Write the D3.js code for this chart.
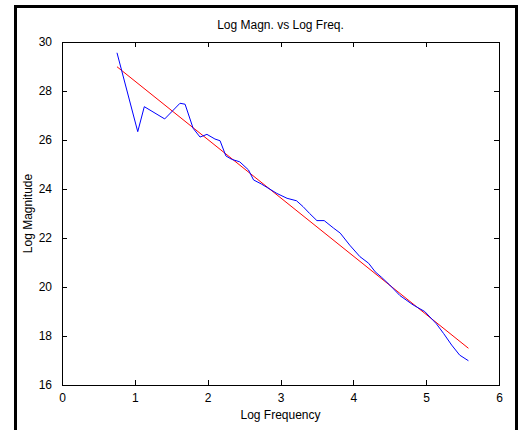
<!DOCTYPE html>
<html>
<head>
<meta charset="utf-8">
<script src="https://cdn.jsdelivr.net/npm/d3@7"></script>
<style>
  body { margin: 0; background: #fff; }
  text { font-family: Arial, "Liberation Sans", sans-serif; font-size: 12px; fill: #000; }
</style>
</head>
<body>
<svg id="chart" width="519" height="430"></svg>
<script>
// Data
var logFreq = [0.755, 1.04, 1.13, 1.41, 1.62, 1.69, 1.80, 1.895, 1.99, 2.10, 2.17, 2.25,
  2.33, 2.44, 2.56, 2.63, 2.74, 2.95, 3.09, 3.22, 3.31, 3.40, 3.50, 3.60, 3.73, 3.82,
  3.95, 4.09, 4.21, 4.30, 4.39, 4.50, 4.64, 4.82, 4.98, 5.14, 5.24, 5.35, 5.46, 5.58];
var logMagn = [29.56, 26.34, 27.36, 26.86, 27.5, 27.46, 26.48, 26.12, 26.23, 26.04, 25.97, 25.35,
  25.21, 25.11, 24.78, 24.37, 24.20, 23.82, 23.62, 23.52, 23.28, 23.0, 22.71, 22.71, 22.40, 22.2,
  21.71, 21.24, 20.97, 20.62, 20.39, 20.08, 19.65, 19.27, 19.0, 18.5, 18.1, 17.63, 17.22, 16.99];
// fitted line end points
var fitFreq = [0.755, 5.58];
var fitMagn = [28.99, 17.50];

var xTicks = [0, 1, 2, 3, 4, 5, 6];
var yTicks = [16, 18, 20, 22, 24, 26, 28, 30];

var svg = d3.select("#chart");
var plotL = 62, plotR = 499, plotT = 42, plotB = 385;

// outer black frame
svg.append("rect")
    .attr("x", 15.5).attr("y", 6.5)
    .attr("width", 501).attr("height", 440)
    .attr("fill", "none").attr("stroke", "#000").attr("stroke-width", 3);

var x = d3.scaleLinear().domain([0, 6]).range([plotL, plotR]);
var y = d3.scaleLinear().domain([16, 30]).range([plotB, plotT]);

// axes, matlab style box with inward ticks
var g = svg.append("g");
g.append("g").attr("transform", "translate(0," + plotB + ")")
    .call(d3.axisBottom(x).tickValues(xTicks).tickSizeInner(-5).tickSizeOuter(0).tickPadding(8).tickFormat(d3.format("d")));
g.append("g").attr("transform", "translate(0," + plotT + ")")
    .call(d3.axisTop(x).tickValues(xTicks).tickSizeInner(-5).tickSizeOuter(0).tickFormat(""));
g.append("g").attr("transform", "translate(" + plotL + ",0)")
    .call(d3.axisLeft(y).tickValues(yTicks).tickSizeInner(-5).tickSizeOuter(0).tickPadding(10).tickFormat(d3.format("d")));
g.append("g").attr("transform", "translate(" + plotR + ",0)")
    .call(d3.axisRight(y).tickValues(yTicks).tickSizeInner(-5).tickSizeOuter(0).tickFormat(""));
g.selectAll(".domain, .tick line").attr("stroke", "#000").attr("shape-rendering", "crispEdges");
g.selectAll(".tick text").style("font-family", "Arial, 'Liberation Sans', sans-serif").style("font-size", "12px");

// data line and fit
var blue = logFreq.map((d, i) => [d, logMagn[i]]);
var red = fitFreq.map((d, i) => [d, fitMagn[i]]);
var line = d3.line().x(d => x(d[0])).y(d => y(d[1]));

svg.append("path").datum(red)
    .attr("d", line).attr("fill", "none").attr("stroke", "#ff0000").attr("stroke-width", 1);
svg.append("path").datum(blue)
    .attr("d", line).attr("fill", "none").attr("stroke", "#0000ff").attr("stroke-width", 1);

// labels
svg.append("text").attr("x", (plotL + plotR) / 2).attr("y", 29)
    .attr("text-anchor", "middle").text("Log Magn. vs Log Freq.");
svg.append("text").attr("x", (plotL + plotR) / 2).attr("y", 419)
    .attr("text-anchor", "middle").text("Log Frequency");
svg.append("text").attr("transform", "translate(32," + (plotT + plotB) / 2 + ") rotate(-90)")
    .attr("text-anchor", "middle").text("Log Magnitude");
</script>
</body>
</html>
